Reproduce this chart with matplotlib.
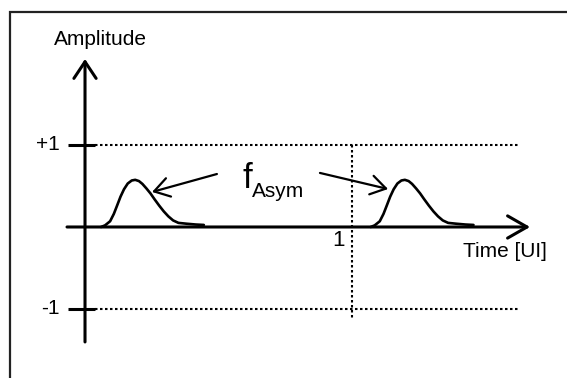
import matplotlib
matplotlib.use('Agg')
import matplotlib.pyplot as plt
import numpy as np

# pulse shape (time in UI, amplitude)
pulse_t = [0.060, 0.075, 0.094, 0.108, 0.120, 0.133, 0.146, 0.160, 0.175,
           0.188, 0.202, 0.215, 0.230, 0.245, 0.260, 0.278, 0.295, 0.312,
           0.330, 0.350, 0.380, 0.415, 0.445]
pulse_a = [0.0, 0.02, 0.07, 0.16, 0.26, 0.37, 0.46, 0.53, 0.567,
           0.575, 0.56, 0.525, 0.47, 0.41, 0.34, 0.26, 0.19, 0.13,
           0.08, 0.05, 0.04, 0.03, 0.025]
pulse_offsets = [0.0, 1.01]
levels = [1, -1]
level_labels = ['+1', '-1']
ui_mark = 1.0

plt.rcParams['font.family'] = ['Liberation Sans', 'DejaVu Sans']

fig = plt.figure(figsize=(5.67, 3.78), dpi=100)
ax = fig.add_axes([0, 0, 1, 1])
ax.set_xlim(-0.3184, 1.8052)
ax.set_ylim(-1.8415, 2.768)
ax.axis('off')

# frame (cropped on right and bottom)
ax.plot([10 / 567, 10 / 567, 1.0], [0.0, 1 - 12 / 378, 1 - 12 / 378],
        transform=ax.transAxes, color='#222222', lw=1.6, clip_on=False,
        solid_joinstyle='miter')

dots = (0, (1.2, 1.2))
# dotted level lines and UI marker
for lv in levels:
    ax.plot([0.037, 1.629], [lv, lv], color='k', lw=1.5, ls=dots)
    ax.plot([-0.064, 0.037], [lv, lv], color='k', lw=2.2,
            solid_capstyle='butt')
ax.plot([ui_mark, ui_mark], [1, -1.11], color='k', lw=1.5, ls=dots)

# axes with open arrow heads
ax.annotate('', xy=(1.667, 0), xytext=(-0.0674, 0),
            arrowprops=dict(arrowstyle='->,head_length=0.7,head_width=0.4',
                            mutation_scale=20, lw=2.2, color='k',
                            shrinkA=0, shrinkB=0))
ax.annotate('', xy=(0, 2.049), xytext=(0, -1.402),
            arrowprops=dict(arrowstyle='->,head_length=0.6,head_width=0.4',
                            mutation_scale=20, lw=2.2, color='k',
                            shrinkA=0, shrinkB=0))

# pulses
for off in pulse_offsets:
    ax.plot(np.array(pulse_t) + off, pulse_a, color='k', lw=1.9,
            solid_joinstyle='round', solid_capstyle='round')

# labels
ax.text(0.056, 2.22, 'Amplitude', fontsize=15, ha='center', va='baseline')
for lv, lab in zip(levels, level_labels):
    ax.text(-0.094, lv, lab, fontsize=15, ha='right', va='center')
ax.text(0.948, -0.17, '1', fontsize=16, ha='center', va='center')
ax.text(1.416, -0.366, 'Time [UI]', fontsize=15, ha='left', va='baseline')
ax.text(0.588, 0.476, 'f', fontsize=25, ha='left', va='baseline')
ax.text(0.625, 0.366, 'Asym', fontsize=15, ha='left', va='baseline')

# pointer arrows to the pulses
for start, tip in [((0.494, 0.646), (0.251, 0.427)),
                   ((0.880, 0.659), (1.135, 0.463))]:
    ax.annotate('', xy=tip, xytext=start,
                arrowprops=dict(arrowstyle='->,head_length=0.6,head_width=0.38',
                                mutation_scale=18, lw=1.6, color='k',
                                shrinkA=0, shrinkB=0))

fig.savefig('out.png', dpi=100)
